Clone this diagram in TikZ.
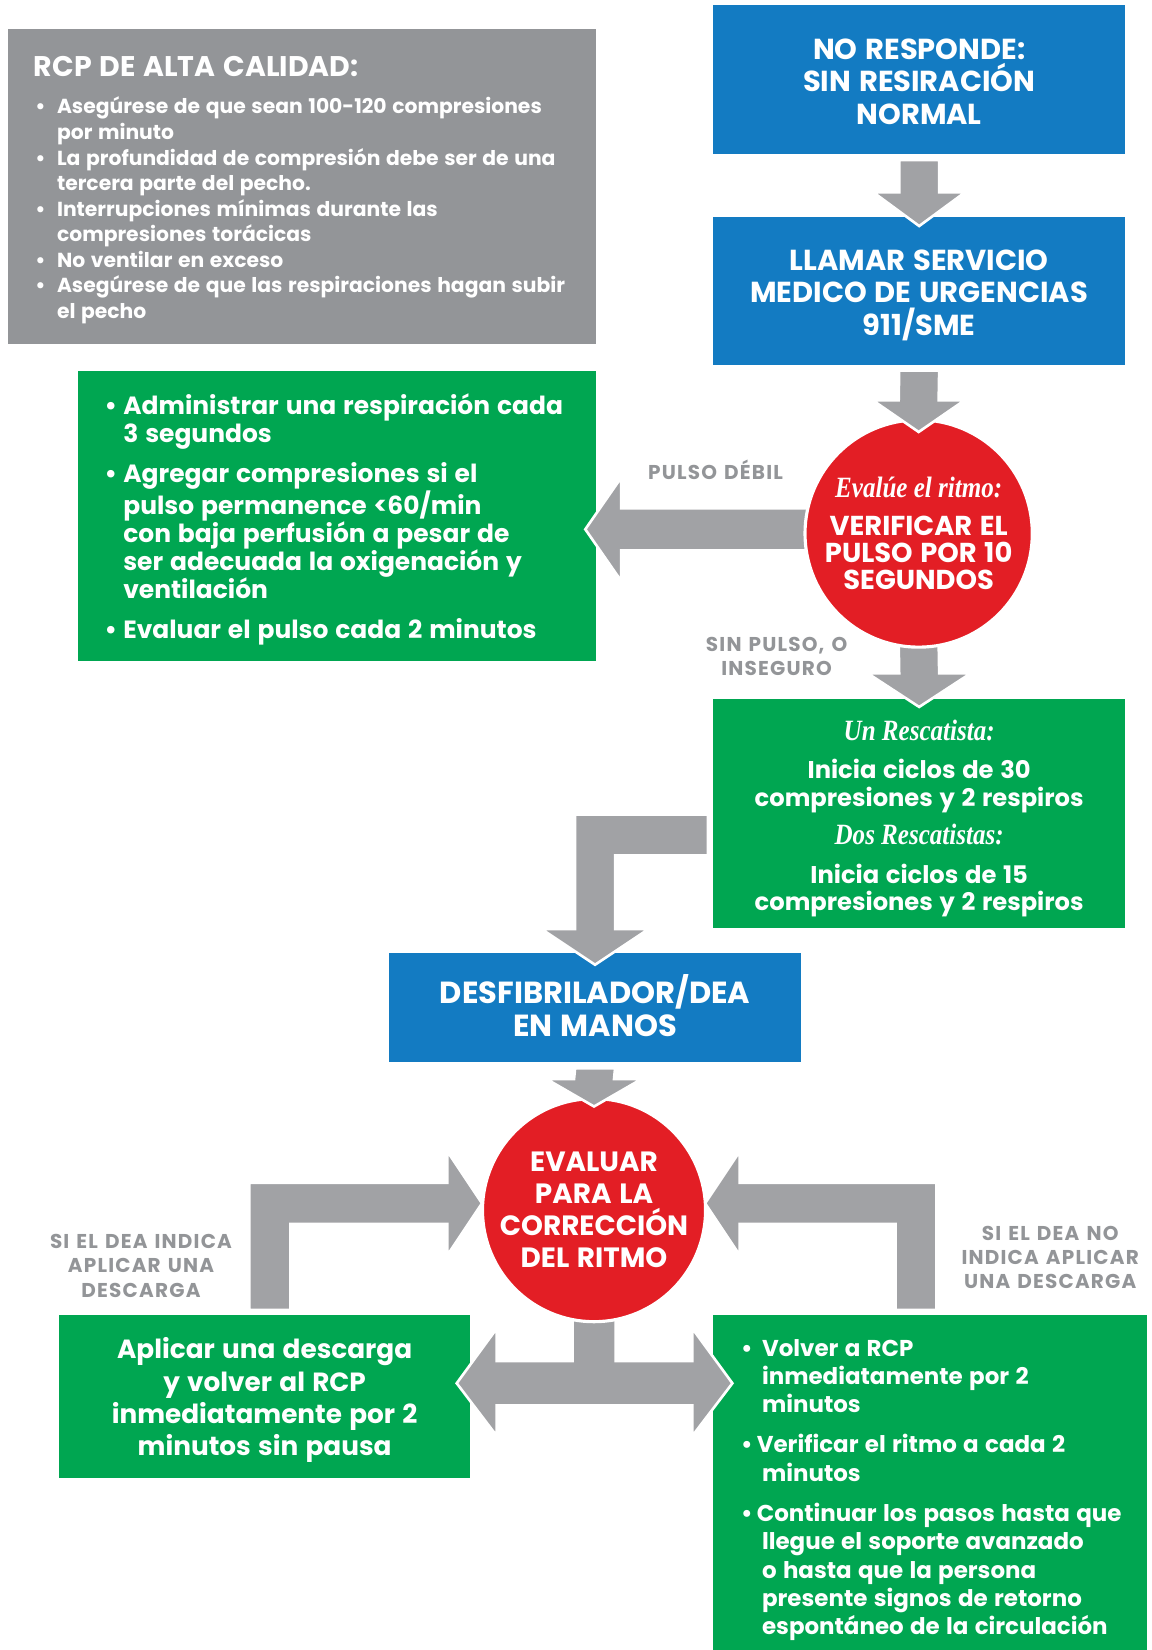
\documentclass[tikz,border=0pt]{standalone}
\usepackage{fontspec}
\usepackage{tikz}
\usetikzlibrary{calc}
\setmainfont{Poppins Bold}[WordSpace=1.3]
\newfontfamily\serit{Liberation Serif Bold Italic}[FakeStretch=0.85]
\definecolor{rcpgray}{RGB}{147,149,152}
\definecolor{argray}{RGB}{161,162,165}
\definecolor{rcpblue}{RGB}{19,123,194}
\definecolor{rcpgreen}{RGB}{0,166,81}
\definecolor{rcpred}{RGB}{227,30,37}
\pgfdeclarelayer{front}
\pgfsetlayers{main,front}

\begin{document}
\begin{tikzpicture}[x=1pt,y=-1pt,
  bluebox/.style={rectangle,fill=rcpblue,inner sep=0pt},
  grnbox/.style={rectangle,fill=rcpgreen,inner sep=0pt},
  boxtext/.style={text=white,align=center,inner sep=0pt},
  redcirc/.style={circle,fill=rcpred,draw=white,line width=3pt,text=white,align=center,inner sep=0pt},
  arr/.style={fill=argray,draw=white,line width=2.5pt,line join=miter},
  lbl/.style={text=rcpgray,align=center,font=\fontsize{19}{23}\selectfont\addfontfeatures{LetterSpace=6}},
  bul/.style={text=white,align=left,anchor=west,inner sep=0pt}]
\useasboundingbox (0,0) rectangle (1094,1568);
\fill[white] (0,0) rectangle (1094,1568);

\node[rectangle,fill=rcpgray,minimum width=558pt,minimum height=299pt,inner sep=0pt] (rcp) at (287,177.5) {};
\node[anchor=west,text=white,inner sep=0pt,font=\fontsize{27}{30}\selectfont] (rcpt) at (32,63) {RCP DE ALTA CALIDAD:};
\node[bul,font=\fontsize{19.3}{24.3}\selectfont] (rcpq) at (54,200) {\llap{•\hspace{11pt}}Asegúrese de que sean 100-120 compresiones\\por minuto\\\llap{•\hspace{11pt}}La profundidad de compresión debe ser de una\\tercera parte del pecho.\\\llap{•\hspace{11pt}}Interrupciones mínimas durante las\\compresiones torácicas\\\llap{•\hspace{11pt}}No ventilar en exceso\\\llap{•\hspace{11pt}}Asegúrese de que las respiraciones hagan subir\\el pecho};

\node[bluebox,minimum width=391pt,minimum height=141pt] (nr) at (873.5,75.5) {};
\node[boxtext,font=\fontsize{27.5}{31}\selectfont] (nrt) at ($(nr.center)+(0,2)$) {NO RESPONDE:\\SIN RESIRACIÓN\\NORMAL};
\node[bluebox,minimum width=391pt,minimum height=141pt] (call) at (873.5,276.5) {};
\node[boxtext,font=\fontsize{27.5}{31}\selectfont] (callt) at ($(call.center)+(0,4)$) {LLAMAR SERVICIO\\MEDICO DE URGENCIAS\\911/SME};
\node[grnbox,minimum width=492pt,minimum height=275pt] (weak) at (320,490.5) {};
\node[bul,font=\fontsize{23.7}{26.8}\selectfont] (weakq) at (117,493.5) {\llap{•\hspace{6pt}}Administrar una respiración cada\\3 segundos\\[11.5pt]\llap{•\hspace{6pt}}Agregar compresiones si el\\pulso permanence <60/min\\con baja perfusión a pesar de\\ser adecuada la oxigenación y\\ventilación\\[11pt]\llap{•\hspace{6pt}}Evaluar el pulso cada 2 minutos};
\node[grnbox,minimum width=391pt,minimum height=218pt] (rescue) at (873.5,773) {};
\node[boxtext,font=\fontsize{23}{26}\selectfont] (rescuet) at ($(rescue.center)+(0,5)$) {{\serit\fontsize{28}{26}\selectfont Un Rescatista:}\\[10pt]Inicia ciclos de 30\\compresiones y 2 respiros\\[10pt]{\serit\fontsize{28}{26}\selectfont Dos Rescatistas:}\\[11pt]Inicia ciclos de 15\\compresiones y 2 respiros};
\node[bluebox,minimum width=391pt,minimum height=103pt] (dea) at (565.5,957.5) {};
\node[boxtext,font=\fontsize{29}{31}\selectfont] (deat) at ($(dea.center)+(0,-2)$) {DESFIBRILADOR/DEA\\EN MANOS};
\node[grnbox,minimum width=391pt,minimum height=155pt] (shock) at (251.5,1327.5) {};
\node[boxtext,font=\fontsize{25}{30.5}\selectfont] (shockt) at ($(shock.center)+(0,3)$) {Aplicar una descarga\\y volver al RCP\\inmediatamente por 2\\minutos sin pausa};
\node[grnbox,minimum width=412pt,minimum height=318pt] (noshock) at (884,1409) {};
\node[bul,font=\fontsize{21.8}{27}\selectfont] (noshockq) at (724,1416) {\llap{•\hspace{9pt}}Volver a RCP\\inmediatamente por 2\\minutos\\[11pt]\hspace*{-5pt}\llap{•\hspace{4pt}}Verificar el ritmo a cada 2\\minutos\\[11pt]\hspace*{-5pt}\llap{•\hspace{4pt}}Continuar los pasos hasta que\\llegue el soporte avanzado\\o hasta que la persona\\presente signos de retorno\\espontáneo de la circulación};

\begin{pgfonlayer}{front}
\node[redcirc,minimum size=216pt,font=\fontsize{26}{26}\selectfont] (pulse) at (873,507) {{\serit\fontsize{28}{28}\selectfont Evalúe el ritmo:}\\[10pt]VERIFICAR EL\\PULSO POR 10\\SEGUNDOS};
\node[redcirc,minimum size=212pt,font=\fontsize{26.5}{30.5}\selectfont] (rhythm) at (564.5,1150) {EVALUAR\\PARA LA\\CORRECCIÓN\\DEL RITMO};
\end{pgfonlayer}

\node[lbl] (weaklbl) at (680,446) {PULSO DÉBIL};
\node[lbl] (nolbl) at (738,623.5) {SIN PULSO, O\\INSEGURO};
\node[lbl] (shocklbl) at (134,1203) {SI EL DEA INDICA\\APLICAR UNA\\DESCARGA};
\node[lbl] (noshocklbl) at (998,1195) {SI EL DEA NO\\INDICA APLICAR\\UNA DESCARGA};

\draw[arr] ($(nr.south)+(-19,6)$) -- ($(nr.south)+(19,6)$) -- ($(call.north)+(19,-23)$) -- ($(call.north)+(43.5,-23)$) -- ($(call.north)+(0,9)$) -- ($(call.north)+(-43.5,-23)$) -- ($(call.north)+(-19,-23)$) -- cycle;
\draw[arr] ($(pulse.west)+(6,-24)$) -- ($(weak.east |- pulse.west)+(24,-24)$) -- ($(weak.east |- pulse.west)+(24,-53)$) -- ($(weak.east |- pulse.west)+(-10,-4)$) -- ($(weak.east |- pulse.west)+(24,45)$) -- ($(weak.east |- pulse.west)+(24,16)$) -- ($(pulse.west)+(6,16)$) -- cycle;
\draw[arr] ($(pulse.south)+(-19,-6)$) -- ($(pulse.south)+(19,-6)$) -- ($(rescue.north)+(19,-24)$) -- ($(rescue.north)+(49,-24)$) -- ($(rescue.north)+(0,8)$) -- ($(rescue.north)+(-49,-24)$) -- ($(rescue.north)+(-19,-24)$) -- cycle;
\draw[arr] ($(rescue.west)+(-5,1)$) -- ($(rescue.west)+(-5,40)$) -- ($(dea.north |- rescue.west)+(19,40)$) -- ($(dea.north)+(19,-23)$) -- ($(dea.north)+(51,-23)$) -- ($(dea.north)+(0,11)$) -- ($(dea.north)+(-51,-23)$) -- ($(dea.north)+(-19,-23)$) -- ($(dea.north |- rescue.west)+(-19,1)$) -- cycle;
\draw[arr] ($(shock.north)+(-14.5,-5)$) -- ($(shock.north)+(24.5,-5)$) -- ($(shock.north |- rhythm.west)+(24.5,13)$) -- ($(rhythm.west)+(-32,13)$) -- ($(rhythm.west)+(-32,43)$) -- ($(rhythm.west)+(1,-6.5)$) -- ($(rhythm.west)+(-32,-56)$) -- ($(rhythm.west)+(-32,-26)$) -- ($(shock.north |- rhythm.west)+(-14.5,-26)$) -- cycle;
\draw[arr] ($(noshock.north)+(6,-5)$) -- ($(noshock.north)+(-33,-5)$) -- ($(noshock.north |- rhythm.east)+(-33,13)$) -- ($(rhythm.east)+(31,13)$) -- ($(rhythm.east)+(31,43)$) -- ($(rhythm.east)+(-2,-6.5)$) -- ($(rhythm.east)+(31,-56)$) -- ($(rhythm.east)+(31,-26)$) -- ($(noshock.north |- rhythm.east)+(6,-26)$) -- cycle;
\draw[arr] ($(rhythm.south)+(-20.5,-5)$) -- ($(rhythm.south)+(20.5,-5)$) -- ($(rhythm.south)+(20.5,36)$) -- ($(rhythm.south)+(93.5,36)$) -- ($(rhythm.south)+(93.5,5)$) -- ($(rhythm.south)+(131.5,57)$) -- ($(rhythm.south)+(93.5,107)$) -- ($(rhythm.south)+(93.5,78)$) -- ($(rhythm.south)+(-92.5,78)$) -- ($(rhythm.south)+(-92.5,107)$) -- ($(rhythm.south)+(-130.5,57)$) -- ($(rhythm.south)+(-92.5,5)$) -- ($(rhythm.south)+(-92.5,36)$) -- ($(rhythm.south)+(-20.5,36)$) -- cycle;

\begin{pgfonlayer}{front}
\draw[arr] ($(call.south)+(-19,5)$) -- ($(call.south)+(19,5)$) -- ($(pulse.north)+(19,-17)$) -- ($(pulse.north)+(43.5,-17)$) -- ($(pulse.north)+(0,13)$) -- ($(pulse.north)+(-43.5,-17)$) -- ($(pulse.north)+(-19,-17)$) -- cycle;
\draw[arr] ($(dea.south)+(-19,6)$) -- ($(dea.south)+(19,6)$) -- ($(rhythm.north)+(19,-17)$) -- ($(rhythm.north)+(45,-17)$) -- ($(rhythm.north)+(0,9)$) -- ($(rhythm.north)+(-45,-17)$) -- ($(rhythm.north)+(-19,-17)$) -- cycle;
\end{pgfonlayer}
\end{tikzpicture}
\end{document}
